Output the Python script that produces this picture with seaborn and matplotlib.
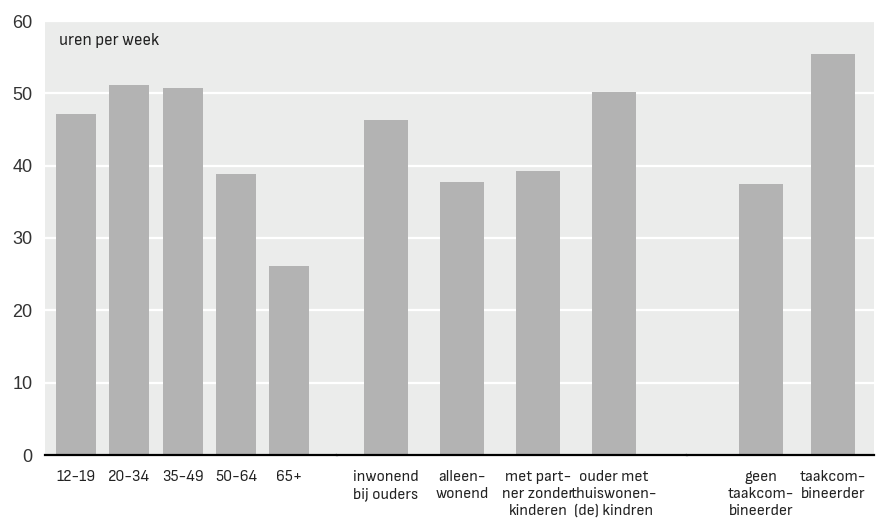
import matplotlib
matplotlib.use("Agg")
import matplotlib.pyplot as plt
import seaborn as sns

# hours per week
age_labels = ["12-19", "20-34", "35-49", "50-64", "65+"]
age_hours = [47.1, 51.1, 50.7, 38.8, 26.1]

household_labels = ["inwonend\nbij ouders", "alleen-\nwonend",
                    "met part-\nner zonder\nkinderen",
                    "ouder met\nthuiswonen-\n(de) kindren"]
household_hours = [46.3, 37.7, 39.2, 50.2]

combi_labels = ["geen\ntaakcom-\nbineerder", "taakcom-\nbineerder"]
combi_hours = [37.5, 55.4]

y_ticks = [0, 10, 20, 30, 40, 50, 60]

sns.set_style("whitegrid", {
    "axes.facecolor": "#ebeceb",
    "grid.color": "white",
    "axes.edgecolor": "black",
})
plt.rcParams["font.family"] = ["Liberation Sans", "DejaVu Sans"]
narrow = ["Sofia Sans Semi Condensed", "DejaVu Sans"]

W, H = 878, 530
fig = plt.figure(figsize=(W / 100, H / 100), dpi=100)

bottom = 75 / H
height = 434 / H
bar_color = "#b3b3b3"

# (labels, values, bar width, left px, right px, xlim)
panels = [
    (age_labels, age_hours, 0.75, 45, 337, (-0.58, 4.897)),
    (household_labels, household_hours, 0.58, 337, 687, (-0.645, 3.96)),
    (combi_labels, combi_hours, 0.61, 687, 874, (-1.03, 1.57)),
]

for i, (labels, vals, bw, x0, x1, xl) in enumerate(panels):
    ax = fig.add_axes([x0 / W, bottom, (x1 - x0) / W, height])
    sns.barplot(x=labels, y=vals, ax=ax, color=bar_color, saturation=1,
                width=bw, linewidth=0, zorder=3)
    ax.set_xlim(*xl)
    ax.set_ylim(0, 60)
    ax.set_yticks(y_ticks)
    ax.grid(axis="x", visible=False)
    ax.grid(axis="y", color="white", linewidth=1.6, zorder=0)
    ax.set_axisbelow(True)
    for side in ["top", "left", "right"]:
        ax.spines[side].set_visible(False)
    ax.spines["bottom"].set_linewidth(1.6)
    ax.spines["bottom"].set_zorder(5)
    ax.tick_params(axis="x", length=0, pad=11, labelsize=11.8, colors="#222222")
    for t in ax.get_xticklabels():
        t.set_family(narrow)
        t.set_linespacing(1.25)
    if i == 0:
        ax.tick_params(axis="y", length=0, pad=9, labelsize=13, colors="#333333")
    else:
        ax.tick_params(axis="y", length=0, labelleft=False)
    ax.set_xlabel("")
    ax.set_ylabel("")

fig.text(59 / W, 1 - 40 / H, "uren per week", va="center", ha="left",
         fontsize=12.5, color="#222222", family=narrow)

fig.savefig("out.png", dpi=100)
